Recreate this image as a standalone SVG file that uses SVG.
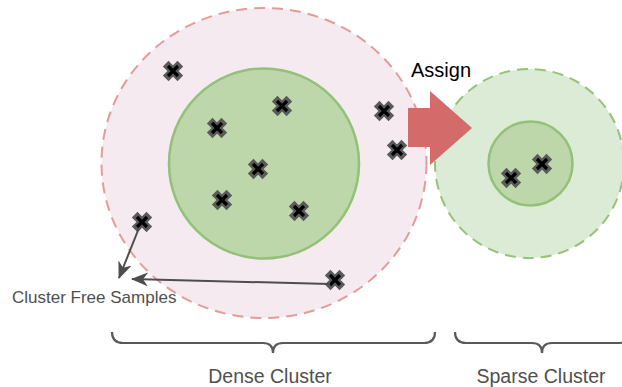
<svg xmlns="http://www.w3.org/2000/svg" width="622" height="387" viewBox="0 0 622 387">
<style>
.lbl{font-family:"Liberation Sans",Arial,sans-serif;fill:#505050}
.xo{stroke:#5a5a5a;stroke-width:8;stroke-linecap:square;fill:none}
.xi{stroke:#000000;stroke-width:3.2;stroke-linecap:butt;fill:none}
.brace{fill:none;stroke:#595959;stroke-width:2.2}
.conn{stroke:#4d4d4d;stroke-width:2;fill:none}
</style>
<defs>
<g id="x">
<path class="xo" d="M-4.5,-4.5L4.5,4.5M-4.5,4.5L4.5,-4.5"/>
<path class="xi" d="M-5,-5L5,5M-5,5L5,-5"/>
</g>
<marker id="ah" markerUnits="userSpaceOnUse" markerWidth="17" markerHeight="14" viewBox="0 0 17 14" refX="16" refY="7" orient="auto">
<path d="M0,0L17,7L0,14L5,7z" fill="#4d4d4d"/>
</marker>
</defs>
<rect width="622" height="387" fill="#ffffff"/>
<g id="dense-cluster">
<ellipse cx="264" cy="163" rx="162.5" ry="155" fill="#f5eaf0" stroke="#e39c9a" stroke-width="2" stroke-dasharray="11 7"/>
<circle cx="264" cy="163.5" r="95" fill="#bdd7ab" stroke="#93c178" stroke-width="2.5"/>
</g>
<g id="sparse-cluster">
<circle cx="529.5" cy="163.5" r="94.5" fill="#dbebd6" stroke="#97c279" stroke-width="2" stroke-dasharray="11 7"/>
<circle cx="530.5" cy="163.5" r="42" fill="#bdd7ab" stroke="#93c178" stroke-width="2.5"/>
</g>
<g id="assign-arrow">
<polygon points="408,108 430,108 430,91 472,128 430,165 430,147 408,147" fill="#d26b69"/>
<text class="lbl" x="441" y="77" font-size="20" text-anchor="middle" style="fill:#000000">Assign</text>
</g>
<g id="samples">
<use href="#x" x="173" y="71"/>
<use href="#x" x="282" y="106"/>
<use href="#x" x="217" y="128"/>
<use href="#x" x="258" y="169"/>
<use href="#x" x="222" y="200"/>
<use href="#x" x="299" y="211"/>
<use href="#x" x="384" y="111"/>
<use href="#x" x="397" y="150"/>
<use href="#x" x="142" y="222"/>
<use href="#x" x="335" y="280"/>
<use href="#x" x="542" y="164"/>
<use href="#x" x="511" y="178"/>
</g>
<g id="connectors">
<line class="conn" x1="139" y1="228" x2="119" y2="278" marker-end="url(#ah)"/>
<line class="conn" x1="330" y1="284" x2="132" y2="279" marker-end="url(#ah)"/>
</g>
<g id="cluster-free-label">
<text class="lbl" x="12" y="303" font-size="17">Cluster Free Samples</text>
</g>
<g id="dense-brace">
<path class="brace" d="M112,332Q112,343 123,343L263,343Q273,343 273,353Q273,343 283,343L424,343Q435,343 435,332"/>
<text class="lbl" x="270" y="383" font-size="19.5" text-anchor="middle">Dense Cluster</text>
</g>
<g id="sparse-brace">
<path class="brace" d="M455,332Q455,343 466,343L532,343Q542,343 542,353Q542,343 552,343L618,343Q629,343 629,332"/>
<text class="lbl" x="541" y="383" font-size="19.5" text-anchor="middle">Sparse Cluster</text>
</g>
</svg>
